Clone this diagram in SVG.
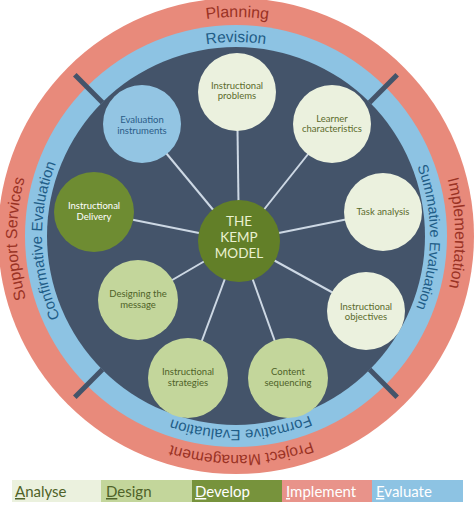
<svg xmlns="http://www.w3.org/2000/svg" width="474" height="508" viewBox="0 0 474 508">
<style>
.ringS{font-family:"Liberation Sans",Arial,sans-serif;font-size:16px;fill:#9a3224}
.ringB{font-family:"Liberation Sans",Arial,sans-serif;font-size:15px;fill:#1f5d87}
.conn{stroke:#cdd8e4;stroke-width:2}
.div{stroke:#44546a;stroke-width:5}
.lbl{font-family:Lato,"Open Sans",sans-serif;font-size:9.5px;text-anchor:middle}
.an{fill:#ebf1de}.de{fill:#c3d69b}.dv{fill:#6e8c32}.ev{fill:#93c5e3}
.tan{fill:#5b6b2c}.tde{fill:#4f6228}.tdv{fill:#ffffff}.tev{fill:#2b5c88}
.leg{font-family:Lato,"Open Sans",sans-serif;font-size:15px}
</style>
<defs>
<path id="pS" d="M 390.86 81.14 A 219 219 0 1 1 81.14 390.86 A 219 219 0 1 1 390.86 81.14"/>
<path id="pB" d="M 373.18 98.82 A 194 194 0 1 1 98.82 373.18 A 194 194 0 1 1 373.18 98.82"/>
</defs>
<rect width="474" height="508" fill="#ffffff"/>
<g id="rings">
<circle cx="236" cy="236" r="238" fill="#e88a7b"/>
<circle cx="236" cy="236" r="211" fill="#8dc3e3"/>
<circle cx="236" cy="236" r="189" fill="#44546a"/>
<line class="div" x1="102.4" y1="102.4" x2="74.8" y2="74.8"/>
<line class="div" x1="369.6" y1="102.4" x2="397.2" y2="74.8"/>
<line class="div" x1="102.4" y1="369.6" x2="74.8" y2="397.2"/>
<line class="div" x1="369.6" y1="369.6" x2="397.2" y2="397.2"/>
</g>
<g id="ring-labels">
<text class="ringS" text-anchor="middle"><textPath href="#pS" startOffset="87.6%">Planning</textPath></text>
<text class="ringS" text-anchor="middle"><textPath href="#pS" startOffset="62.3%">Support Services</textPath></text>
<text class="ringS" text-anchor="middle"><textPath href="#pS" startOffset="12.3%">Implementation</textPath></text>
<text class="ringS" text-anchor="middle" style="font-size:15.5px"><textPath href="#pS" startOffset="37.1%">Project Management</textPath></text>
<text class="ringB" text-anchor="middle" style="font-size:15.5px"><textPath href="#pB" startOffset="87.5%">Revision</textPath></text>
<text class="ringB" text-anchor="middle"><textPath href="#pB" startOffset="62.1%">Confirmative Evaluation</textPath></text>
<text class="ringB" text-anchor="middle" style="font-size:14.5px"><textPath href="#pB" startOffset="12.6%">Summative Evaluation</textPath></text>
<text class="ringB" text-anchor="middle" style="font-size:15px"><textPath href="#pB" startOffset="37.1%">Formative Evaluation</textPath></text>
</g>
<g id="connectors">
<line class="conn" x1="239" y1="241" x2="237" y2="92"/>
<line class="conn" x1="239" y1="241" x2="332" y2="124"/>
<line class="conn" x1="239" y1="241" x2="383" y2="212"/>
<line class="conn" x1="239" y1="241" x2="366" y2="311"/>
<line class="conn" x1="239" y1="241" x2="288" y2="378"/>
<line class="conn" x1="239" y1="241" x2="188" y2="378"/>
<line class="conn" x1="239" y1="241" x2="138" y2="300"/>
<line class="conn" x1="239" y1="241" x2="94" y2="212"/>
<line class="conn" x1="239" y1="241" x2="142" y2="124"/>
</g>
<g id="n-problems"><circle class="an" cx="237" cy="92" r="39"/><text class="lbl tan" x="237" y="89">Instructional</text><text class="lbl tan" x="237" y="99">problems</text></g>
<g id="n-learner"><circle class="an" cx="332" cy="124" r="39"/><text class="lbl tan" x="332" y="122">Learner</text><text class="lbl tan" x="332" y="132">characteristics</text></g>
<g id="n-task"><circle class="an" cx="383" cy="212" r="39"/><text class="lbl tan" x="383" y="215">Task analysis</text></g>
<g id="n-objectives"><circle class="an" cx="366" cy="311" r="39"/><text class="lbl tan" x="366" y="310">Instructional</text><text class="lbl tan" x="366" y="320">objectives</text></g>
<g id="n-content"><circle class="de" cx="288" cy="378" r="40"/><text class="lbl tde" x="288" y="375">Content</text><text class="lbl tde" x="288" y="386">sequencing</text></g>
<g id="n-strategies"><circle class="de" cx="188" cy="378" r="40"/><text class="lbl tde" x="188" y="375">Instructional</text><text class="lbl tde" x="188" y="386">strategies</text></g>
<g id="n-message"><circle class="de" cx="138" cy="300" r="40"/><text class="lbl tde" x="138" y="297">Designing the</text><text class="lbl tde" x="138" y="308">message</text></g>
<g id="n-delivery"><circle class="dv" cx="94" cy="212" r="40"/><text class="lbl tdv" x="94" y="209">Instructional</text><text class="lbl tdv" x="94" y="220">Delivery</text></g>
<g id="n-evaluation"><circle class="ev" cx="142" cy="124" r="39"/><text class="lbl tev" x="142" y="123">Evaluation</text><text class="lbl tev" x="142" y="134">instruments</text></g>
<g id="n-kemp"><circle fill="#627f28" cx="239" cy="241" r="41"/>
<text font-family="Lato,'Open Sans',sans-serif" font-size="13.5" fill="#eaf1d0" text-anchor="middle"><tspan x="239" y="226">THE</tspan><tspan x="239" y="242">KEMP</tspan><tspan x="239" y="258">MODEL</tspan></text></g>
<g id="legend">
<rect x="12" y="480" width="89" height="22" fill="#ebf1de"/>
<rect x="101" y="480" width="91" height="22" fill="#c3d69b"/>
<rect x="192" y="480" width="90" height="22" fill="#77933c"/>
<rect x="282" y="480" width="90" height="22" fill="#e8938a"/>
<rect x="372" y="480" width="91" height="22" fill="#8dc3e3"/>
<text class="leg" x="15" y="497" fill="#4f6228"><tspan text-decoration="underline">A</tspan>nalyse</text>
<text class="leg" x="106" y="497" fill="#4f6228"><tspan text-decoration="underline">D</tspan>esign</text>
<text class="leg" x="195" y="497" fill="#ffffff"><tspan text-decoration="underline">D</tspan>evelop</text>
<text class="leg" x="286" y="497" fill="#ffffff"><tspan text-decoration="underline">I</tspan>mplement</text>
<text class="leg" x="376" y="497" fill="#ffffff"><tspan text-decoration="underline">E</tspan>valuate</text>
</g>
</svg>
